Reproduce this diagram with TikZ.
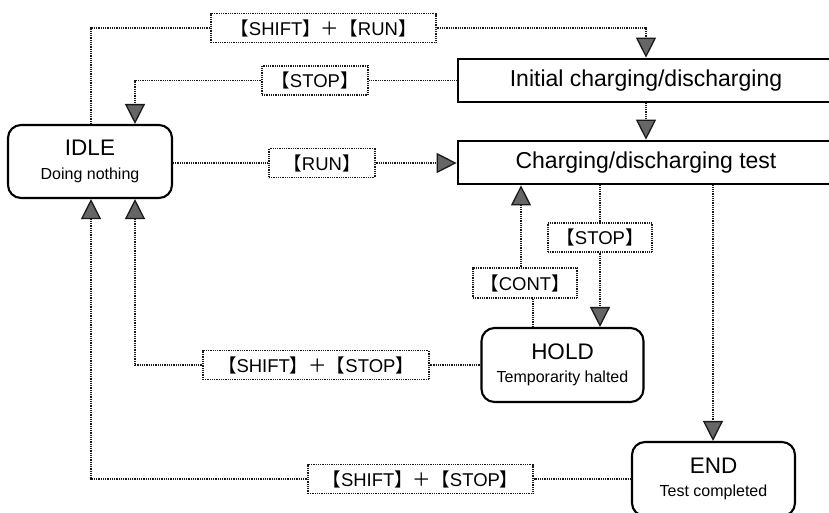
\documentclass[tikz,border=0pt]{standalone}
\usepackage{fontspec}
\setmainfont{Liberation Sans}
\newfontfamily\cjkfont{Noto Sans CJK SC}
\usetikzlibrary{arrows.meta}
\newcommand{\lbrk}{{\cjkfont 【}}
\newcommand{\rbrk}{{\cjkfont 】}}
\newcommand{\plusk}{{\cjkfont ＋}}
\tikzset{
  dl/.style={draw=black!90, line width=1.3pt, dash pattern=on 1pt off 0.8pt},
  arr/.style={dl, -{Triangle[width=20pt,length=20pt,fill=black!60]}},
  lab/.style={draw=black!90, line width=1.2pt, dash pattern=on 1pt off 0.8pt, fill=white,
    font=\fontsize{18.5}{20}\selectfont, inner sep=0pt, minimum height=29pt},
  sbox/.style={draw, line width=2.7pt, minimum width=376pt, minimum height=43pt,
    font=\fontsize{23}{26}\selectfont, inner sep=0pt},
  rbox/.style={draw, line width=2.1pt, rounded corners=13pt, align=center, inner sep=0pt,
    font=\fontsize{16}{23.5}\selectfont}
}
\newcommand{\bigt}[1]{{\fontsize{22.5}{23.5}\selectfont #1}}
\begin{document}
\begin{tikzpicture}[x=1pt,y=-1pt]
\useasboundingbox (0,0) rectangle (829,512);
\fill[white] (0,0) rectangle (829,512);
\clip (0,0) rectangle (829,512);

% states
\node[rbox, minimum width=164pt, minimum height=73pt] (idle) at (90,161.5) {\bigt{IDLE}\\Doing nothing};
\node[sbox] (init) at (646,80.5) {Initial charging/discharging};
\node[sbox] (charge) at (646,162.5) {Charging/discharging test};
\node[rbox, minimum width=162pt, minimum height=74pt] (hold) at (562.5,365) {\bigt{HOLD}\\Temporarity halted};
\node[rbox, minimum width=163pt, minimum height=74pt] (end) at (713.5,479) {\bigt{END}\\Test completed};

% labels
\node[lab, minimum width=225pt] (L1) at (323.5,28) {\lbrk SHIFT\rbrk\plusk\lbrk RUN\rbrk};
\node[lab, minimum width=106pt] (L2) at (315,80.5) {\lbrk STOP\rbrk};
\node[lab, minimum width=106pt] (L3) at (322,163) {\lbrk RUN\rbrk};
\node[lab, minimum width=104pt] (L4) at (600,237.5) {\lbrk STOP\rbrk};
\node[lab, minimum width=104pt, minimum height=30pt] (L5) at (525,283) {\lbrk CONT\rbrk};
\node[lab, minimum width=226pt] (L6) at (316,365) {\lbrk SHIFT\rbrk\plusk\lbrk STOP\rbrk};
\node[lab, minimum width=225pt] (L7) at (420.5,479) {\lbrk SHIFT\rbrk\plusk\lbrk STOP\rbrk};

% x positions of vertical runs
\coordinate (xa) at (91,0);
\coordinate (xb) at (135,0);
\coordinate (xc) at (521,0);
\coordinate (xd) at (533,0);
\coordinate (xe) at (600,0);
\coordinate (xf) at (713,0);

% connectors
\draw[dl] (idle.north -| xa) |- (L1.west);
\draw[arr] (L1.east) -| (init.north);
\draw[dl] (init.west) -- (L2.east);
\draw[arr] (L2.west) -| (idle.north -| xb);
\draw[dl] (idle.east |- L3.west) -- (L3.west);
\draw[arr] (L3.east) -- (charge.west |- L3.east);
\draw[arr] (init.south) -- (charge.north);
\draw[dl] (charge.south -| xe) -- (L4.north);
\draw[arr] (L4.south) -- (hold.north -| xe);
\draw[dl] (hold.north -| xd) -- (L5.south -| xd);
\draw[arr] (L5.north -| xc) -- (charge.south -| xc);
\draw[arr] (charge.south -| xf) -- (end.north -| xf);
\draw[dl] (hold.west) -- (L6.east);
\draw[arr] (L6.west) -| (idle.south -| xb);
\draw[dl] (end.west) -- (L7.east);
\draw[arr] (L7.west) -| (idle.south -| xa);
\end{tikzpicture}
\end{document}
